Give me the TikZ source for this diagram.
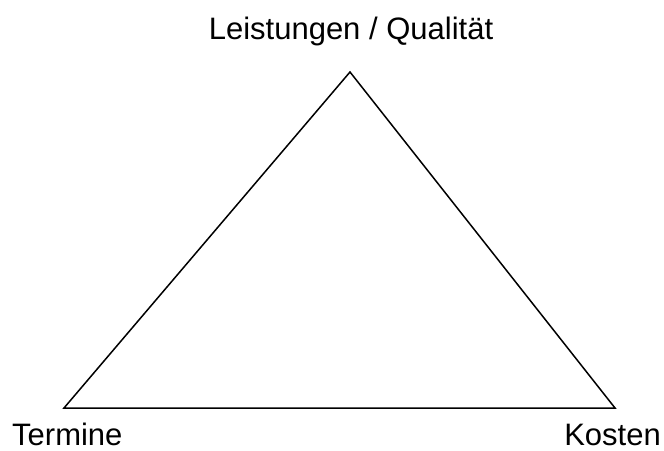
\documentclass[tikz,border=0pt]{standalone}
\usepackage{fontspec}
\setmainfont{Liberation Sans}
\usetikzlibrary{positioning}

\begin{document}
\begin{tikzpicture}[
        x=1pt, y=-1pt,
        corner_label/.style={inner sep=0pt, font=\fontsize{31}{34}\selectfont},
        edge_line/.style={draw, line width=1.5pt, line join=miter}
    ]
        \useasboundingbox (0,0) rectangle (664,450);

        \coordinate (top) at (350,72);
        \coordinate (left) at (64,408);
        \coordinate (right) at (615,408);

        \draw[edge_line] (top) -- (right) -- (left) -- cycle;

        \node[corner_label, anchor=base] (quality) at (351,39) {Leistungen / Qualität};
        \node[corner_label, anchor=base west] (dates) at (12,445) {Termine};
        \node[corner_label, anchor=base east] (costs) at (661,445) {Kosten};
    \end{tikzpicture}
\end{document}
